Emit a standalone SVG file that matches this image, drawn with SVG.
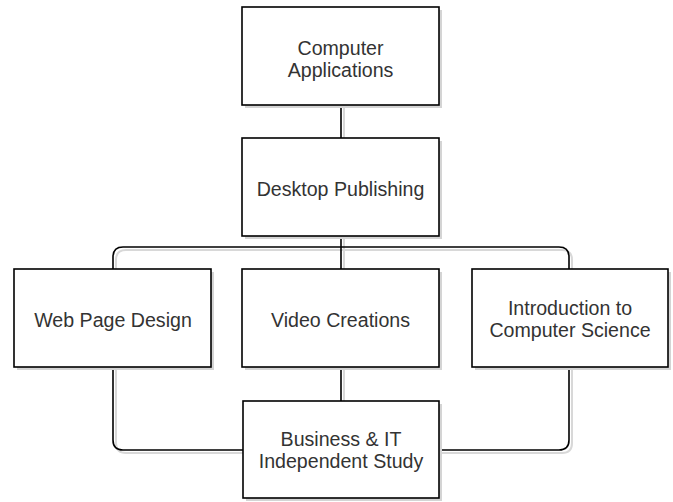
<svg xmlns="http://www.w3.org/2000/svg" width="673" height="502" viewBox="0 0 673 502">
<style>
.box{fill:#fff;stroke:#000;stroke-width:1.6}
.sh{fill:#d4d4d4;stroke:none}
.ln{fill:none;stroke:#000;stroke-width:1.6}
.lsh{fill:none;stroke:#d8d8d8;stroke-width:2}
text{font-family:"Liberation Sans",Arial,sans-serif;font-size:19.6px;fill:#333;text-anchor:middle}
</style>
<rect width="673" height="502" fill="#fff"/>
<g id="connectors">
<g transform="translate(3,3)">
<path class="lsh" d="M341 105V138M341 236V269M113 269V257Q113 247 123 247H559Q569 247 569 257V269M113 367V440Q113 450 123 450H243M569 367V440Q569 450 559 450H439M341 367V401"/>
</g>
<path class="ln" d="M341 105V138M341 236V269M113 269V257Q113 247 123 247H559Q569 247 569 257V269M113 367V440Q113 450 123 450H243M569 367V440Q569 450 559 450H439M341 367V401"/>
</g>
<g id="computer-applications">
<rect class="sh" x="245" y="10" width="197" height="98"/>
<rect class="box" x="242" y="7" width="197" height="98"/>
<text x="340.5" y="55">Computer</text>
<text x="340.5" y="77">Applications</text>
</g>
<g id="desktop-publishing">
<rect class="sh" x="245" y="141" width="197" height="98"/>
<rect class="box" x="242" y="138" width="197" height="98"/>
<text x="340.5" y="195.5">Desktop Publishing</text>
</g>
<g id="web-page-design">
<rect class="sh" x="17" y="272" width="197" height="98"/>
<rect class="box" x="14" y="269" width="197" height="98"/>
<text x="113" y="327">Web Page Design</text>
</g>
<g id="video-creations">
<rect class="sh" x="245" y="272" width="197" height="98"/>
<rect class="box" x="242" y="269" width="197" height="98"/>
<text x="340.5" y="327">Video Creations</text>
</g>
<g id="intro-cs">
<rect class="sh" x="475" y="272" width="196" height="98"/>
<rect class="box" x="472" y="269" width="196" height="98"/>
<text x="570" y="314.5">Introduction to</text>
<text x="570" y="336.5">Computer Science</text>
</g>
<g id="business-it">
<rect class="sh" x="246" y="404" width="196" height="97"/>
<rect class="box" x="243" y="401" width="196" height="97"/>
<text x="341" y="446">Business &amp; IT</text>
<text x="341" y="468">Independent Study</text>
</g>
</svg>
